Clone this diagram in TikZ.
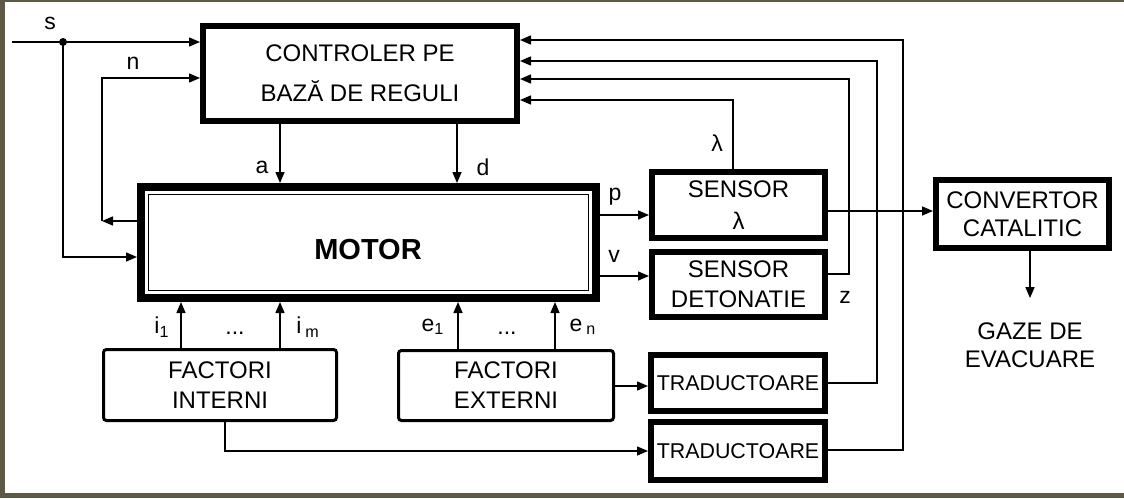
\documentclass[tikz,border=0pt]{standalone}
\usepackage{fontspec}
\setmainfont{Liberation Sans}
\usetikzlibrary{arrows.meta, positioning, calc}
\definecolor{FrameOlive}{RGB}{94,89,69}

\begin{document}
\begin{tikzpicture}[
    x=0.5pt, y=-0.5pt,
    every node/.style={font=\fontsize{11.5}{14}\selectfont},
    box/.style={rectangle, draw, line width=3pt, align=center, inner sep=0pt, font=\fontsize{12}{15}\selectfont},
    factorbox/.style={rectangle, rounded corners=1.5pt, draw, line width=1.5pt, align=center, inner sep=0pt, font=\fontsize{12}{15}\selectfont},
    arrow/.style={-{Triangle[length=5.5pt,width=4.5pt]}, line width=0.75pt},
    wire/.style={line width=0.75pt},
    lbl/.style={inner sep=0pt}
  ]
    \useasboundingbox (0,0) rectangle (1124,498);
    \fill[FrameOlive] (0,0) rectangle (1124,498);
    \fill[white] (5,2) rectangle (1124,493);

    \node[box, minimum width=157pt, minimum height=47.5pt, font=\fontsize{12}{20}\selectfont] (ctrl) at (360,73.5) {CONTROLER PE\\BAZĂ DE REGULI};
    \node[rectangle, draw, line width=4pt, minimum width=227.5pt, minimum height=55.5pt] (motor) at (368.5,242.5) {};
    \draw[wire] ([shift={(11.5,11.5)}]motor.north west) rectangle ([shift={(-11.5,-11.5)}]motor.south east);
    \node[font=\fontsize{14.5}{16}\selectfont\bfseries] (motorname) at (368,250) {MOTOR};
    \node[box, minimum width=86.5pt, minimum height=33pt, font=\fontsize{12}{16}\selectfont] (senl) at (738.5,205) {SENSOR\\λ};
    \node[box, minimum width=86.5pt, minimum height=32.5pt] (send) at (738.5,284.5) {SENSOR\\DETONATIE};
    \node[box, minimum width=87pt, minimum height=28pt, font=\fontsize{10.7}{12}\selectfont] (trad1) at (738,383) {TRADUCTOARE};
    \node[box, minimum width=87pt, minimum height=29pt, font=\fontsize{10.7}{12}\selectfont] (trad2) at (738,451) {TRADUCTOARE};
    \node[box, minimum width=86.5pt, minimum height=34pt, font=\fontsize{12}{14}\selectfont] (conv) at (1022.5,214) {CONVERTOR\\CATALITIC};
    \node[factorbox, minimum width=116.5pt, minimum height=35.5pt] (fint) at (220,385) {FACTORI\\INTERNI};
    \node[factorbox, minimum width=107.5pt, minimum height=35pt] (fext) at (506,385.5) {FACTORI\\EXTERNI};
    \node[align=center, inner xsep=0pt, inner ysep=12pt, font=\fontsize{12}{14}\selectfont] (gaze) at (1030,345) {GAZE DE\\EVACUARE};

    \coordinate (sin) at (12,42);
    \coordinate (sdot) at (63,42);
    \coordinate (ncorner) at (102,221);
    \draw[wire] (sin) -- (sdot);
    \fill (sdot) circle (2pt);
    \draw[arrow] (sdot) -- (ctrl.west |- sdot);
    \draw[arrow] (sdot) |- (motor.west |- 0,257);
    \draw[arrow] (motor.west |- ncorner) -- (ncorner);
    \draw[arrow] (ncorner) |- (ctrl.west |- 0,78);

    \draw[arrow] (ctrl.south -| 280,0) -- (motor.north -| 280,0);
    \draw[arrow] (ctrl.south -| 457,0) -- (motor.north -| 457,0);
    \draw[arrow] (motor.east |- 0,215) -- (senl.west |- 0,215);
    \draw[arrow] (motor.east |- 0,276) -- (send.west |- 0,276);
    \draw[arrow] (senl.north -| 733,0) |- (ctrl.east |- 0,100);
    \draw[arrow] (send.east |- 0,274) -| (849,79) -- (ctrl.east |- 0,79);
    \draw[arrow] (trad1.east |- 0,383) -| (877,61) -- (ctrl.east |- 0,61);
    \draw[arrow] (trad2.east |- 0,450) -| (903,40) -- (ctrl.east |- 0,40);
    \draw[arrow] (senl.east |- 0,211) -- (conv.west |- 0,211);
    \draw[arrow] (conv.south -| gaze.north) -- (gaze.north);

    \draw[arrow] (fint.north -| 181,0) -- (motor.south -| 181,0);
    \draw[arrow] (fint.north -| 280,0) -- (motor.south -| 280,0);
    \draw[arrow] (fext.north -| 458,0) -- (motor.south -| 458,0);
    \draw[arrow] (fext.north -| 555,0) -- (motor.south -| 555,0);
    \draw[arrow] (fext.east |- 0,386) -- (trad1.west |- 0,386);
    \draw[arrow] (fint.south -| 225,0) |- (trad2.west |- 0,451);

    \node[lbl] (lbls) at (50,23) {s};
    \node[lbl] (lbln) at (133,63) {n};
    \node[lbl] (lbla) at (262,167) {a};
    \node[lbl] (lbld) at (483,167) {d};
    \node[lbl] (lblp) at (615,197) {p};
    \node[lbl] (lblv) at (614,256) {v};
    \node[lbl] (lbllambda) at (717,143) {λ};
    \node[lbl] (lblz) at (845,297) {z};
    \node[lbl] (lbli1) at (162,327) {i\textsubscript{1}};
    \node[lbl] (lbldotsi) at (235,333) {...};
    \node[lbl] (lblim) at (308,327) {i\,\textsubscript{m}};
    \node[lbl] (lble1) at (433,327) {e\textsubscript{1}};
    \node[lbl] (lbldotse) at (507,333) {...};
    \node[lbl] (lblen) at (583,327) {e\,\textsubscript{n}};
  \end{tikzpicture}
\end{document}
